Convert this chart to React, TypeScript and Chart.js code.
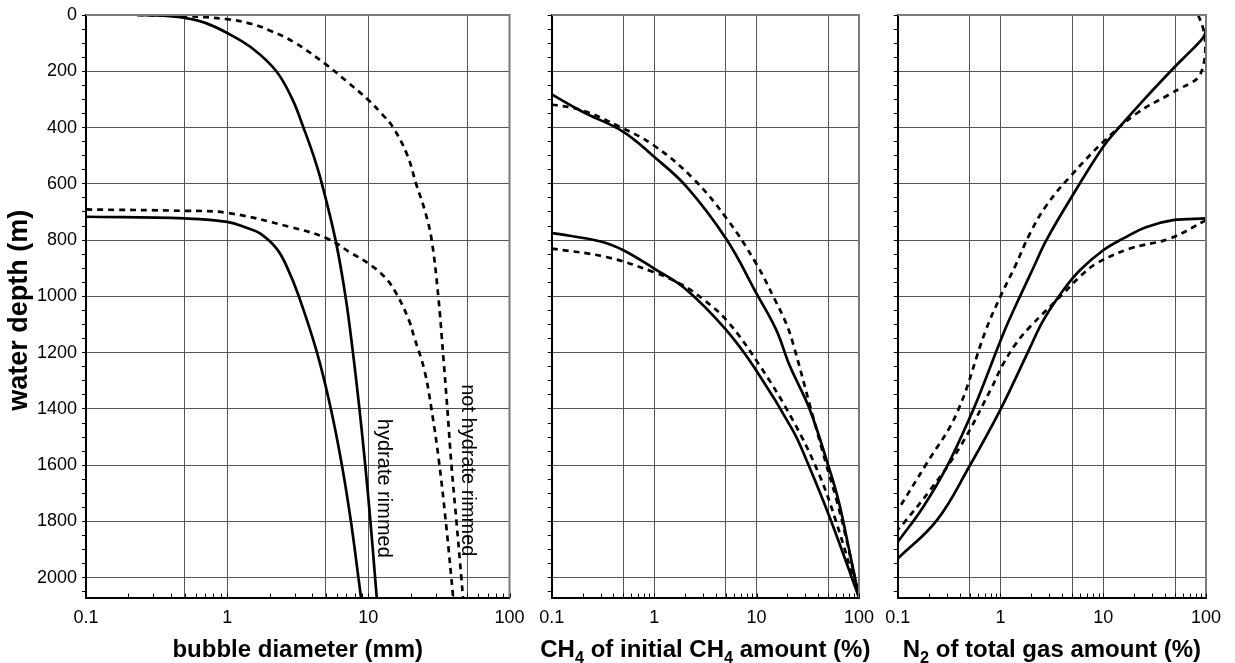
import { useEffect, useRef } from 'react';
import { Chart, registerables } from 'chart.js';

Chart.register(...registerables);

const FONT = '"Liberation Sans", Arial, Helvetica, sans-serif';
const INK = '#000000';
const GRID = '#555555';
const FRAME = '#7a7a7a';
const CLEAR = 'rgba(0,0,0,0)';

const CANVAS_H = 663;
const AREA_TOP = 15;
const AREA_BOTTOM = 597.5;

const DEPTH_MAX = 2070;
const X_MIN = 0.1;
const X_MAX = 100;

// log-axis ticks: labelled decades, grid lines and minor tick marks
const xLabelled = [0.1, 1, 10, 100];
const xGridValues = [0.1, 0.5, 1, 5, 10, 50, 100];
const xTickValues = [
  0.1, 0.2, 0.3, 0.4, 0.5, 0.6, 0.7, 0.8, 0.9,
  1, 2, 3, 4, 5, 6, 7, 8, 9,
  10, 20, 30, 40, 50, 60, 70, 80, 90, 100,
];
const DEPTH_LABEL_STEP = 200;
const DEPTH_TICK_STEP = 50;
const depthTicks: number[] = [];
for (let d = 0; d < DEPTH_MAX; d += DEPTH_TICK_STEP) depthTicks.push(d);

// ---- bubble diameter (mm) ----
const rimmedShallowDiam = [0.23, 0.35, 0.5, 0.7, 1.0, 1.52, 2.23, 2.9, 3.47, 4.09, 4.69, 5.86, 6.89, 7.78, 8.65, 9.51, 10.35, 11.17, 11.47];
const rimmedShallowDepth = [0, 2, 10, 28, 64, 120, 200, 300, 400, 500, 600, 800, 1000, 1200, 1400, 1600, 1800, 2000, 2070];
const rimmedDeepDiam = [0.1, 0.5, 1.0, 1.4, 1.71, 2.24, 2.65, 3.22, 4.33, 5.43, 6.5, 7.53, 8.51, 8.87];
const rimmedDeepDepth = [717, 723, 735, 758, 776, 830, 895, 1000, 1200, 1400, 1600, 1800, 2000, 2070];
const bareShallowDiam = [0.23, 0.5, 1.0, 1.5, 2.0, 2.94, 4.9, 7.0, 10, 12.4, 15.0, 18.95, 21.8, 25.3, 28.1, 31.3, 33.8, 36.3, 38.8, 42.1, 45.6, 46.8];
const bareShallowDepth = [0, 4, 15, 32, 55, 95, 172, 235, 302, 350, 400, 500, 600, 700, 800, 1000, 1200, 1400, 1600, 1800, 2000, 2070];
const bareDeepDiam = [0.1, 0.5, 1.0, 2.78, 5.1, 7.5, 10, 13, 15.8, 19.4, 21.1, 24.95, 28.1, 31.8, 35.9, 39.9];
const bareDeepDepth = [691, 696, 703, 753, 794, 845, 883, 930, 990, 1085, 1144, 1262, 1405, 1594, 1831, 2070];

// ---- CH4 of initial CH4 amount (%) ----
const ch4RimmedShallow = [0.1, 0.2, 0.5, 1.0, 2.07, 5.1, 10, 15.6, 21, 33, 50, 63, 78, 100];
const ch4RimmedShallowDepth = [282, 344, 415, 504, 610, 798, 990, 1120, 1245, 1401, 1600, 1725, 1880, 2070];
const ch4BareShallow = [0.1, 0.196, 0.46, 0.98, 2.4, 5.1, 9.9, 15, 19.4, 22.6, 34.2, 47.6, 60, 75, 100];
const ch4BareShallowDepth = [318, 338, 397, 462, 581, 723, 883, 1010, 1095, 1165, 1405, 1594, 1720, 1860, 2070];
const ch4RimmedDeep = [0.1, 0.3, 0.5, 1.0, 2.0, 4.9, 9.9, 22.6, 31.7, 51.6, 100];
const ch4RimmedDeepDepth = [774, 805, 836, 901, 972, 1114, 1262, 1476, 1594, 1784, 2070];
const ch4BareDeep = [0.1, 0.34, 0.98, 1.9, 3.0, 5.1, 10.7, 22.6, 40.5, 59.7, 100];
const ch4BareDeepDepth = [830, 860, 913, 960, 1010, 1085, 1245, 1440, 1630, 1800, 2070];

// ---- N2 of total gas amount (%) ----
const n2RimmedShallow = [100, 97, 87, 70, 48, 26.5, 14.5, 10, 4.94, 2.8, 2.08, 1.49, 1.1, 0.73, 0.54, 0.3, 0.177, 0.1];
const n2RimmedShallowDepth = [46, 71, 95, 130, 190, 290, 397, 468, 646, 800, 900, 1013, 1120, 1286, 1405, 1606, 1748, 1873];
const n2BareShallow = [84, 94, 98.5, 94, 84, 70, 56, 44.6, 21.1, 10.4, 4.74, 2.81, 1.94, 1.38, 1.03, 0.72, 0.375, 0.191, 0.1];
const n2BareShallowDepth = [0, 50, 118, 180, 222, 243, 261, 281, 350, 445, 575, 676, 776, 895, 990, 1120, 1416, 1594, 1760];
const n2RimmedDeep = [100, 48, 26.4, 15.7, 10, 5.93, 4.08, 2.61, 1.89, 0.99, 0.505, 0.24, 0.1];
const n2RimmedDeepDepth = [723, 729, 753, 794, 836, 907, 978, 1085, 1191, 1405, 1600, 1796, 1932];
const n2BareDeep = [100, 44.6, 18.2, 8.6, 5.9, 4.07, 1.94, 1.42, 1.035, 0.827, 0.404, 0.206, 0.113, 0.1];
const n2BareDeepDepth = [729, 794, 830, 883, 931, 990, 1108, 1167, 1248, 1322, 1535, 1689, 1808, 1830];

type Seg = { text: string; sub?: boolean };
type Curve = { x: number[]; depth: number[]; dashed: boolean };
type Note = { text: string; x: number; depth: number };
type Panel = {
  left: number;
  width: number;
  areaLeft: number;
  areaRight: number;
  title: Seg[];
  yTitle?: string;
  yLabels: boolean;
  curves: Curve[];
  notes: Note[];
};

const panels: Panel[] = [
  {
    left: 0,
    width: 540,
    areaLeft: 86,
    areaRight: 509.5,
    title: [{ text: 'bubble diameter (mm)' }],
    yTitle: 'water depth (m)',
    yLabels: true,
    curves: [
      { x: rimmedShallowDiam, depth: rimmedShallowDepth, dashed: false },
      { x: rimmedDeepDiam, depth: rimmedDeepDepth, dashed: false },
      { x: bareShallowDiam, depth: bareShallowDepth, dashed: true },
      { x: bareDeepDiam, depth: bareDeepDepth, dashed: true },
    ],
    notes: [
      { text: 'hydrate rimmed', x: 12.9, depth: 1682 },
      { text: 'not hydrate rimmed', x: 50.7, depth: 1618 },
    ],
  },
  {
    left: 520,
    width: 360,
    areaLeft: 551.7,
    areaRight: 859,
    title: [
      { text: 'CH' },
      { text: '4', sub: true },
      { text: ' of initial CH' },
      { text: '4', sub: true },
      { text: ' amount (%)' },
    ],
    yLabels: false,
    curves: [
      { x: ch4RimmedShallow, depth: ch4RimmedShallowDepth, dashed: false },
      { x: ch4BareShallow, depth: ch4BareShallowDepth, dashed: true },
      { x: ch4RimmedDeep, depth: ch4RimmedDeepDepth, dashed: false },
      { x: ch4BareDeep, depth: ch4BareDeepDepth, dashed: true },
    ],
    notes: [],
  },
  {
    left: 870,
    width: 365,
    areaLeft: 897.7,
    areaRight: 1206,
    title: [{ text: 'N' }, { text: '2', sub: true }, { text: ' of total gas amount (%)' }],
    yLabels: false,
    curves: [
      { x: n2RimmedShallow, depth: n2RimmedShallowDepth, dashed: false },
      { x: n2BareShallow, depth: n2BareShallowDepth, dashed: true },
      { x: n2RimmedDeep, depth: n2RimmedDeepDepth, dashed: false },
      { x: n2BareDeep, depth: n2BareDeepDepth, dashed: true },
    ],
    notes: [],
  },
];

function drawSegments(ctx: CanvasRenderingContext2D, segs: Seg[], cx: number, baseline: number, size: number) {
  const parts = segs.map((s) => {
    const fs = s.sub ? size * 0.68 : size;
    ctx.font = `bold ${fs}px ${FONT}`;
    return { s, fs, w: ctx.measureText(s.text).width };
  });
  const total = parts.reduce((a, p) => a + p.w, 0);
  let x = cx - total / 2;
  ctx.textAlign = 'left';
  ctx.textBaseline = 'alphabetic';
  for (const p of parts) {
    ctx.font = `bold ${p.fs}px ${FONT}`;
    ctx.fillText(p.s.text, x, baseline + (p.s.sub ? size * 0.24 : 0));
    x += p.w;
  }
}

function decorations(panel: Panel) {
  return {
    id: 'panelDecorations',
    afterDraw(chart: any) {
      const { ctx, chartArea } = chart;
      const xs = chart.scales.x;
      const ys = chart.scales.y;
      ctx.save();

      // frame: top and right edges
      ctx.strokeStyle = FRAME;
      ctx.lineWidth = 2;
      ctx.beginPath();
      ctx.moveTo(chartArea.left, chartArea.top);
      ctx.lineTo(chartArea.right, chartArea.top);
      ctx.lineTo(chartArea.right, chartArea.bottom);
      ctx.stroke();

      // minor tick marks pointing into the plot from the bottom axis
      ctx.strokeStyle = INK;
      ctx.lineWidth = 1;
      ctx.beginPath();
      for (const v of xTickValues) {
        const px = Math.round(xs.getPixelForValue(v)) + 0.5;
        ctx.moveTo(px, chartArea.bottom);
        ctx.lineTo(px, chartArea.bottom - 4);
      }
      ctx.stroke();

      // rotated curve labels
      ctx.fillStyle = INK;
      for (const n of panel.notes) {
        ctx.save();
        ctx.translate(xs.getPixelForValue(n.x), ys.getPixelForValue(n.depth));
        ctx.rotate(Math.PI / 2);
        ctx.font = `20px ${FONT}`;
        ctx.textAlign = 'center';
        ctx.textBaseline = 'middle';
        ctx.fillText(n.text, 0, 0);
        ctx.restore();
      }

      // axis titles
      drawSegments(ctx, panel.title, (chartArea.left + chartArea.right) / 2, 657, 24);
      if (panel.yTitle) {
        ctx.save();
        ctx.translate(20, (chartArea.top + chartArea.bottom) / 2 + 4);
        ctx.rotate(-Math.PI / 2);
        ctx.font = `bold 27px ${FONT}`;
        ctx.textAlign = 'center';
        ctx.textBaseline = 'middle';
        ctx.fillText(panel.yTitle, 0, 0);
        ctx.restore();
      }
      ctx.restore();
    },
  };
}

function buildChart(canvas: HTMLCanvasElement, panel: Panel) {
  const datasets = panel.curves.map((c) => ({
    data: c.x.map((v, i) => ({ x: v, y: c.depth[i] })),
    showLine: true,
    borderColor: INK,
    backgroundColor: INK,
    borderWidth: 2.7,
    borderDash: c.dashed ? [6, 5] : [],
    pointRadius: 0,
    pointHoverRadius: 0,
    tension: 0.4,
    fill: false,
  }));
  return new Chart(canvas, {
    type: 'scatter',
    data: { datasets },
    options: {
      responsive: false,
      animation: false,
      devicePixelRatio: 1,
      events: [],
      layout: {
        padding: {
          left: 0,
          top: AREA_TOP,
          right: panel.width - (panel.areaRight - panel.left),
          bottom: 0,
        },
      },
      plugins: { legend: { display: false }, tooltip: { enabled: false } },
      scales: {
        x: {
          type: 'logarithmic',
          min: X_MIN,
          max: X_MAX,
          afterBuildTicks: (s: any) => {
            s.ticks = xTickValues.map((v) => ({ value: v }));
          },
          afterFit: (s: any) => {
            s.height = CANVAS_H - AREA_BOTTOM;
            s.paddingLeft = 0;
            s.paddingRight = 0;
          },
          grid: {
            color: (c: any) => (c.tick && xGridValues.includes(c.tick.value) ? GRID : CLEAR),
            lineWidth: 1,
            drawTicks: false,
          },
          border: { color: INK, width: 2 },
          ticks: {
            autoSkip: false,
            maxRotation: 0,
            padding: 10,
            color: INK,
            font: { family: FONT, size: 18 },
            callback: (v: any) => (xLabelled.includes(Number(v)) ? String(v) : ''),
          },
        },
        y: {
          type: 'linear',
          reverse: true,
          min: 0,
          max: DEPTH_MAX,
          afterBuildTicks: (s: any) => {
            s.ticks = depthTicks.map((v) => ({ value: v }));
          },
          afterFit: (s: any) => {
            s.width = panel.areaLeft - panel.left;
            s.paddingTop = 0;
            s.paddingBottom = 0;
          },
          grid: {
            color: (c: any) => (c.tick && c.tick.value % DEPTH_LABEL_STEP === 0 ? GRID : CLEAR),
            tickColor: INK,
            tickLength: 4,
            lineWidth: 1,
            drawTicks: true,
          },
          border: { color: INK, width: 2 },
          ticks: {
            autoSkip: false,
            padding: 5,
            color: INK,
            font: { family: FONT, size: 18 },
            callback: (v: any) => (panel.yLabels && Number(v) % DEPTH_LABEL_STEP === 0 ? String(v) : ''),
          },
        },
      },
    } as any,
    plugins: [decorations(panel)],
  });
}

function PanelCanvas({ panel }: { panel: Panel }) {
  const ref = useRef<HTMLCanvasElement | null>(null);
  useEffect(() => {
    if (!ref.current) return;
    const chart = buildChart(ref.current, panel);
    return () => chart.destroy();
  }, [panel]);
  return (
    <canvas
      ref={ref}
      width={panel.width}
      height={CANVAS_H}
      style={{ position: 'absolute', left: panel.left, top: 0, width: panel.width, height: CANVAS_H }}
    />
  );
}

export default function App() {
  return (
    <div style={{ position: 'absolute', left: 0, top: 0, width: 1235, height: CANVAS_H, background: '#ffffff', overflow: 'hidden' }}>
      {panels.map((p, i) => (
        <PanelCanvas key={i} panel={p} />
      ))}
    </div>
  );
}
